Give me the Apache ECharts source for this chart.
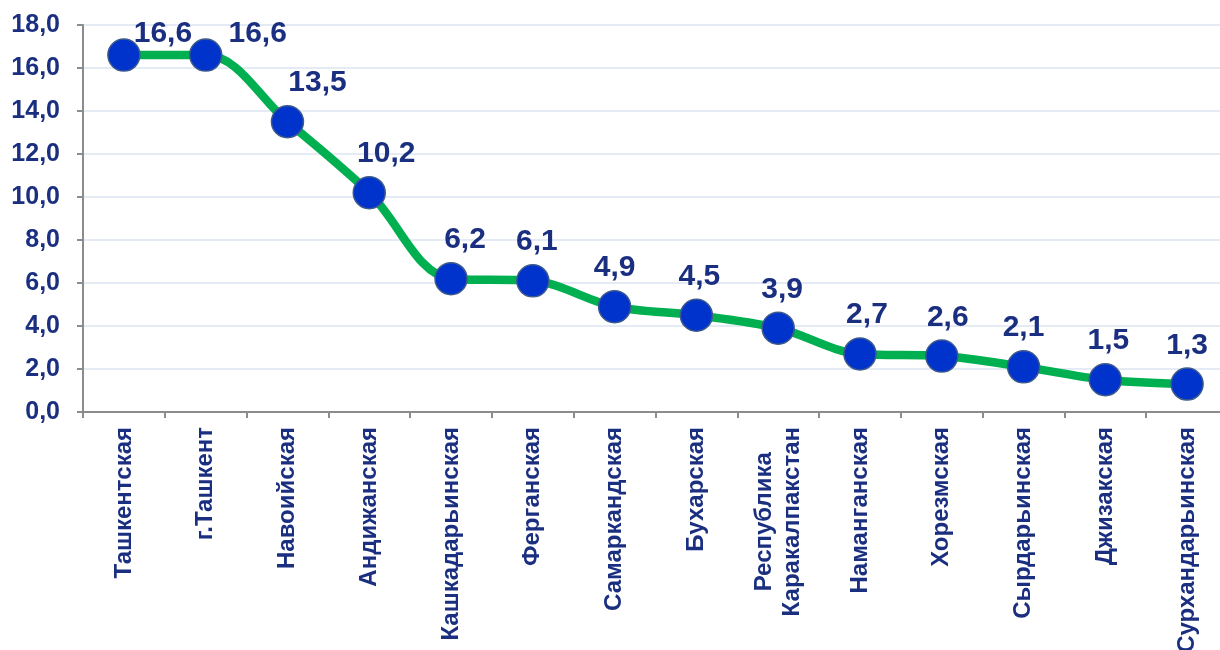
<!DOCTYPE html>
<html><head><meta charset="utf-8">
<script src="https://cdn.jsdelivr.net/npm/echarts@6/dist/echarts.min.js"></script>
<style>html,body{margin:0;padding:0;background:#fff;overflow:hidden}#c{width:1220px;height:650px}</style>
</head><body><div id="c"></div>
<script>
const categories = ['Ташкентская','г.Ташкент','Навоийская','Андижанская','Кашкадарьинская','Ферганская','Самаркандская','Бухарская','Республика\nКаракалпакстан','Наманганская','Хорезмская','Сырдарьинская','Джизакская','Сурхандарьинская'];
const values = [16.6,16.6,13.5,10.2,6.2,6.1,4.9,4.5,3.9,2.7,2.6,2.1,1.5,1.3];
const yMin = 0, yMax = 18, yStep = 2;

// label placement tweaks (style, not data)
const labelDx = [39,52,30,17,14,4,0,3,4,7,6,0,3,0];
const labelDy = [17,17,0,0,0,0,0,0,0,0,0,0,0,0];

const fmt = v => v.toFixed(1).replace('.', ',');
const navy = '#1b2f80';
const font = 'Liberation Sans, Arial, sans-serif';
const catFont = {color:navy,fontFamily:font,fontWeight:'bold',fontSize:24,lineHeight:28};

const chart = echarts.init(document.getElementById('c'));
chart.setOption({
  animation:false,
  grid:{left:83,top:25,width:1145,height:387,containLabel:false,outerBoundsMode:'none'},
  xAxis:{type:'category',data:categories,boundaryGap:true,
    axisLine:{lineStyle:{color:'#8c8c8c',width:2}},
    axisTick:{show:true,length:6,lineStyle:{color:'#8c8c8c',width:2}},
    axisLabel:Object.assign({rotate:90,interval:0,margin:15,
      formatter:v=>v.indexOf('\n')>=0?v.split('\n').map(s=>'{c|'+s+'}').join('\n'):v,
      rich:{c:Object.assign({align:'center'},catFont)}},catFont)},
  yAxis:{type:'value',min:yMin,max:yMax,interval:yStep,
    axisLine:{show:true,lineStyle:{color:'#8c8c8c',width:2}},
    axisTick:{show:true,length:6,lineStyle:{color:'#8c8c8c',width:2}},
    splitLine:{lineStyle:{color:'#dbe5f0',width:1.5}},
    axisLabel:{formatter:fmt,color:navy,fontFamily:font,fontWeight:'bold',fontSize:25,margin:23}},
  series:[{type:'line',smooth:0.35,
    data:values.map((v,i)=>({value:v,label:{offset:[labelDx[i],labelDy[i]]}})),
    symbol:'circle',symbolSize:32,
    lineStyle:{color:'#00b050',width:8.5},
    itemStyle:{color:'#0033cc',borderColor:'#3d5a8c',borderWidth:1.5},
    label:{show:true,position:'top',distance:7,formatter:p=>fmt(p.value),color:navy,fontFamily:font,fontWeight:'bold',fontSize:30}
  }]
});
</script></body></html>
